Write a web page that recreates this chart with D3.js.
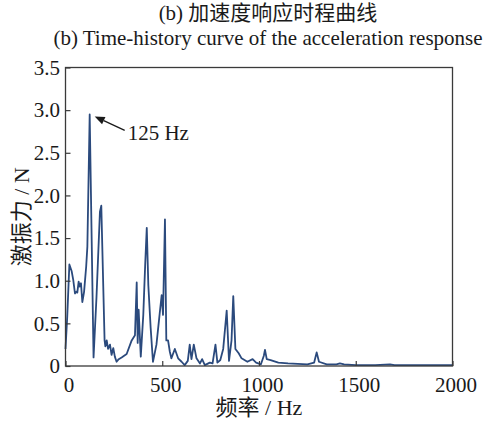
<!DOCTYPE html>
<html>
<head>
<meta charset="utf-8">
<script src="https://cdn.jsdelivr.net/npm/d3@7"></script>
<style>
  html, body { margin: 0; padding: 0; background: #fff; }
  svg { display: block; }
  text { font-family: "Liberation Serif", "Times New Roman", "Noto Sans CJK SC", serif; fill: #1a1a1a; }
</style>
</head>
<body>
<svg id="chart" width="487" height="423"></svg>
<script>
// Excitation force spectrum: frequency (Hz) and amplitude (N)
const freqHz = [
  0, 9, 20, 32, 40, 49, 56, 61, 68, 73, 80, 87, 96, 107, 113, 125, 145,
  160, 178, 185, 202, 206, 213, 220, 230, 238, 247, 255, 264, 275, 290, 316,
  342, 359, 368, 373, 378, 389, 402, 412, 420, 428, 440, 452, 470, 487, 497,
  504, 514, 521, 530, 539, 547, 565, 582, 600, 616, 632, 642, 651, 663, 677,
  695, 706, 720, 746, 760, 775, 785, 800, 815, 833, 845, 858, 867, 878, 895,
  910, 940, 967, 985, 1010, 1025, 1031, 1040, 1060, 1100, 1150, 1250, 1285,
  1298, 1310, 1350, 1400, 1418, 1440, 1500, 1600, 1677, 1700, 1800, 1900, 2000
];
const forceN = [
  0.20, 0.58, 1.19, 1.11, 1.01, 0.85, 0.87, 0.86, 0.99, 0.93, 0.97, 0.75, 0.87, 1.17, 1.40, 2.95, 0.10,
  0.80, 1.81, 1.88, 0.30, 0.23, 0.30, 0.20, 0.25, 0.13, 0.21, 0.11, 0.05, 0.08, 0.10, 0.14,
  0.30, 0.36, 0.98, 0.27, 0.66, 0.11, 0.60, 1.20, 1.62, 0.95, 0.45, 0.05, 0.25, 0.62, 0.83,
  0.60, 1.72, 0.30, 0.30, 0.17, 0.09, 0.20, 0.09, 0.05, 0.01, 0.06, 0.25, 0.08, 0.25, 0.09,
  0.03, 0.08, 0.01, 0.04, 0.03, 0.25, 0.04, 0.07, 0.20, 0.65, 0.06, 0.30, 0.82, 0.20, 0.15,
  0.09, 0.05, 0.08, 0.04, 0.02, 0.12, 0.19, 0.08, 0.07, 0.04, 0.03, 0.02, 0.04,
  0.16, 0.05, 0.02, 0.02, 0.03, 0.02, 0.01, 0.01, 0.02, 0.01, 0.01, 0.01, 0.01
];

const xTicks = [0, 500, 1000, 1500, 2000];
const xTickLabels = ["0", "500", "1000", "1500", "2000"];
const yTicks = [0, 0.5, 1.0, 1.5, 2.0, 2.5, 3.0, 3.5];
const yTickLabels = ["0", "0.5", "1.0", "1.5", "2.0", "2.5", "3.0", "3.5"];

const titleZh = "(b) 加速度响应时程曲线";
const titleEn = "(b) Time-history curve of the acceleration response";
const xLabel = "频率 / Hz";
const yLabel = "激振力 / N";
const peakFreq = 125;
const peakLabel = "125 Hz";

const svg = d3.select("#chart");
const W = 487, H = 423;
const m = { left: 65.5, right: W - 452.5, top: 67.5, bottom: H - 366 };

const x = d3.scaleLinear().domain([0, 2000]).range([m.left, W - m.right]);
const y = d3.scaleLinear().domain([0, 3.5]).range([H - m.bottom, m.top]);

// Titles
svg.append("text").attr("x", 268).attr("y", 19.5)
  .attr("text-anchor", "middle").style("font-size", "21px").text(titleZh);
svg.append("text").attr("x", 268).attr("y", 45)
  .attr("text-anchor", "middle").style("font-size", "21px").text(titleEn);

// Spectrum line
const pts = freqHz.map((f, i) => [f, forceN[i]]);
const line = d3.line().x(d => x(d[0])).y(d => y(d[1]));
svg.append("path").datum(pts)
  .attr("d", line)
  .attr("fill", "none")
  .attr("stroke", "#2b4a7d")
  .attr("stroke-width", 1.8)
  .attr("stroke-linejoin", "round");

// Axes with inward ticks
const axisColor = "#3a3a3a";
const gx = svg.append("g").attr("transform", `translate(0,${y(0)})`)
  .call(d3.axisBottom(x).tickValues(xTicks).tickFormat((d, i) => xTickLabels[i])
    .tickSizeInner(-5).tickSizeOuter(0).tickPadding(11));
const gy = svg.append("g").attr("transform", `translate(${x(0)},0)`)
  .call(d3.axisLeft(y).tickValues(yTicks).tickFormat((d, i) => yTickLabels[i])
    .tickSizeInner(-5).tickSizeOuter(0).tickPadding(5.5));
[gx, gy].forEach(g => {
  g.select(".domain").remove();
  g.selectAll(".tick line").attr("stroke", axisColor).attr("stroke-width", 1.2);
  g.selectAll(".tick text").style("font-size", "21px")
    .style("font-family", '"Liberation Serif", "Times New Roman", serif').attr("fill", "#1a1a1a");
});
gx.selectAll(".tick text").attr("dx", 3);

// Frame
svg.append("rect")
  .attr("x", x(0)).attr("y", y(3.5))
  .attr("width", x(2000) - x(0)).attr("height", y(0) - y(3.5))
  .attr("fill", "none").attr("stroke", axisColor).attr("stroke-width", 1.3);

// Axis titles
svg.append("text").attr("x", 259).attr("y", 415)
  .attr("text-anchor", "middle").style("font-size", "22px").text(xLabel);
svg.append("text")
  .attr("transform", `translate(29,${(y(0) + y(3.5)) / 2}) rotate(-90)`)
  .attr("text-anchor", "middle").style("font-size", "22px").text(yLabel);

// Peak annotation
const peakVal = forceN[freqHz.indexOf(peakFreq)];
const px = x(peakFreq), py = y(peakVal);
const tip = [px + 5, py + 2], tail = [px + 35, py + 16];
const ang = Math.atan2(tip[1] - tail[1], tip[0] - tail[0]);
const hl = 10, hw = 4;
const base = [tip[0] - hl * Math.cos(ang), tip[1] - hl * Math.sin(ang)];
svg.append("line")
  .attr("x1", tail[0]).attr("y1", tail[1]).attr("x2", base[0]).attr("y2", base[1])
  .attr("stroke", "#1a1a1a").attr("stroke-width", 1.3);
svg.append("path")
  .attr("d", d3.line()([
    tip,
    [base[0] + hw * Math.sin(ang), base[1] - hw * Math.cos(ang)],
    [base[0] - hw * Math.sin(ang), base[1] + hw * Math.cos(ang)]
  ]) + "Z")
  .attr("fill", "#1a1a1a");
svg.append("text").attr("x", px + 38).attr("y", py + 25.5)
  .style("font-size", "21px").text(peakLabel);
</script>
</body>
</html>
